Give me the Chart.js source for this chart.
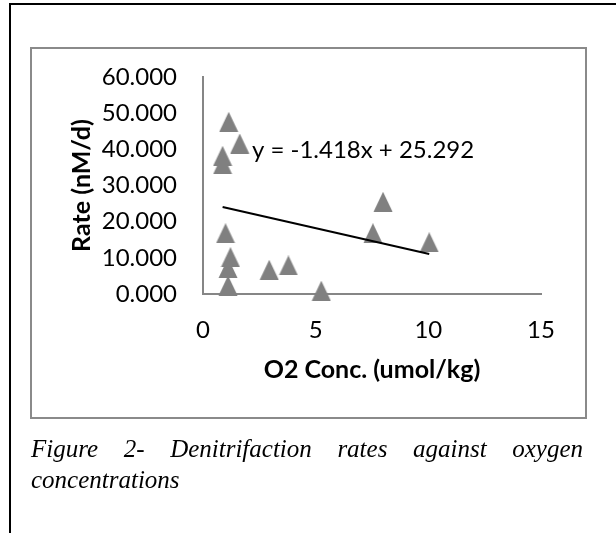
<!DOCTYPE html>
<html>
<head>
<meta charset="utf-8">
<script src="https://cdn.jsdelivr.net/npm/chart.js@4.4.1/dist/chart.umd.min.js"></script>
<style>
  html, body { margin:0; padding:0; background:#fff; }
  body { width:616px; height:533px; position:relative; overflow:hidden; }
  #frameTop { position:absolute; left:9px; top:3px; width:620px; height:2px; background:#000; }
  #frameLeft { position:absolute; left:9px; top:3px; width:2px; height:540px; background:#000; }
  #box { position:absolute; left:30px; top:47px; width:553px; height:368px; border:2px solid #8a8a8a; }
  #wrap { position:absolute; left:0; top:0; width:616px; height:533px; }
  .cap { position:absolute; left:31px; width:552px; font-family:"Liberation Serif","Times New Roman",serif; font-style:italic; font-size:25px; line-height:31px; color:#000; white-space:nowrap; }
  #cap1 { top:433px; text-align:justify; text-align-last:justify; }
  #cap2 { top:464px; }
</style>
</head>
<body>
<div id="frameTop"></div>
<div id="frameLeft"></div>
<div id="box"></div>
<div id="wrap"><canvas id="c" width="616" height="533"></canvas></div>
<div class="cap" id="cap1">Figure 2- Denitrifaction rates against oxygen</div>
<div class="cap" id="cap2">concentrations</div>
<script>
const o2Conc = [1.14, 1.63, 0.87, 0.87, 1.0, 1.22, 1.11, 1.11, 2.94, 3.79, 5.25, 7.54, 7.99, 10.04];
const rates  = [47.6, 41.6, 38.2, 35.9, 16.8, 10.2, 7.2, 2.35, 6.7, 7.9, 0.9, 16.8, 25.5, 14.3];
const xTicks = [0, 5, 10, 15];
const yTicks = [0, 10, 20, 30, 40, 50, 60];
const trendSlope = -1.418;
const trendIntercept = 25.292;
const trendLabel = "y = -1.418x + 25.292";
const xTitle = "O2 Conc. (umol/kg)";
const yTitle = "Rate (nM/d)";

const xMin = Math.min(...o2Conc), xMax = Math.max(...o2Conc);
const trendPts = [
  {x: xMin, y: trendSlope * xMin + trendIntercept},
  {x: xMax, y: trendSlope * xMax + trendIntercept}
];

const FONT = "Lato, 'Open Sans', sans-serif";
const gray = '#808080';

// triangle marker centred on its bounding box (like the spreadsheet marker)
const tri = document.createElement('canvas');
tri.width = 20; tri.height = 20;
(function () {
  const g = tri.getContext('2d');
  g.fillStyle = gray;
  g.beginPath();
  g.moveTo(10, 0);
  g.lineTo(19.5, 20);
  g.lineTo(0.5, 20);
  g.closePath();
  g.fill();
})();

const eqPlugin = {
  id: 'eq',
  afterDatasetsDraw(chart) {
    const {ctx, scales} = chart;
    ctx.save();
    ctx.font = "24px " + FONT;
    ctx.fillStyle = '#000';
    ctx.textAlign = 'left';
    ctx.textBaseline = 'alphabetic';
    ctx.fillText(trendLabel, scales.x.getPixelForValue(2.17), scales.y.getPixelForValue(37.6));
    ctx.restore();
  }
};

new Chart(document.getElementById('c'), {
  type: 'scatter',
  data: {
    datasets: [
      {
        label: 'Rate',
        data: o2Conc.map((x, i) => ({x, y: rates[i]})),
        pointStyle: tri,
        pointRadius: 10,
        pointHoverRadius: 10,
        backgroundColor: gray,
        borderColor: gray,
        borderWidth: 0,
        clip: false,
        order: 2
      },
      {
        label: 'Trend',
        type: 'line',
        data: trendPts,
        borderColor: '#000',
        borderWidth: 2,
        pointRadius: 0,
        fill: false,
        clip: false,
        order: 1
      }
    ]
  },
  options: {
    responsive: false,
    animation: false,
    events: [],
    layout: { padding: { left: 53, right: 75, top: 77, bottom: 139 } },
    plugins: { legend: { display: false }, tooltip: { enabled: false } },
    scales: {
      x: {
        type: 'linear',
        min: 0, max: 15,
        afterBuildTicks: s => { s.ticks = xTicks.map(v => ({value: v})); },
        afterFit: s => { s.height = 100; },
        grid: { display: false, drawTicks: false },
        border: { display: true, color: '#868686', width: 2 },
        ticks: { color: '#000', font: { family: FONT, size: 24 }, padding: 22 },
        title: { display: true, text: xTitle, color: '#000', font: { family: FONT, size: 25, weight: 'bold' }, padding: { top: 0, bottom: 9 } }
      },
      y: {
        type: 'linear',
        min: 0, max: 60,
        afterBuildTicks: s => { s.ticks = yTicks.map(v => ({value: v})); },
        afterFit: s => { s.width = 150; },
        grid: { display: false, drawTicks: false },
        border: { display: true, color: '#868686', width: 2 },
        ticks: { color: '#000', font: { family: FONT, size: 24 }, padding: 26, callback: v => v.toFixed(3) },
        title: { display: true, text: yTitle, color: '#000', font: { family: FONT, size: 25, weight: 'bold' }, padding: { top: 14, bottom: 0 } }
      }
    }
  },
  plugins: [eqPlugin]
});
</script>
</body>
</html>
